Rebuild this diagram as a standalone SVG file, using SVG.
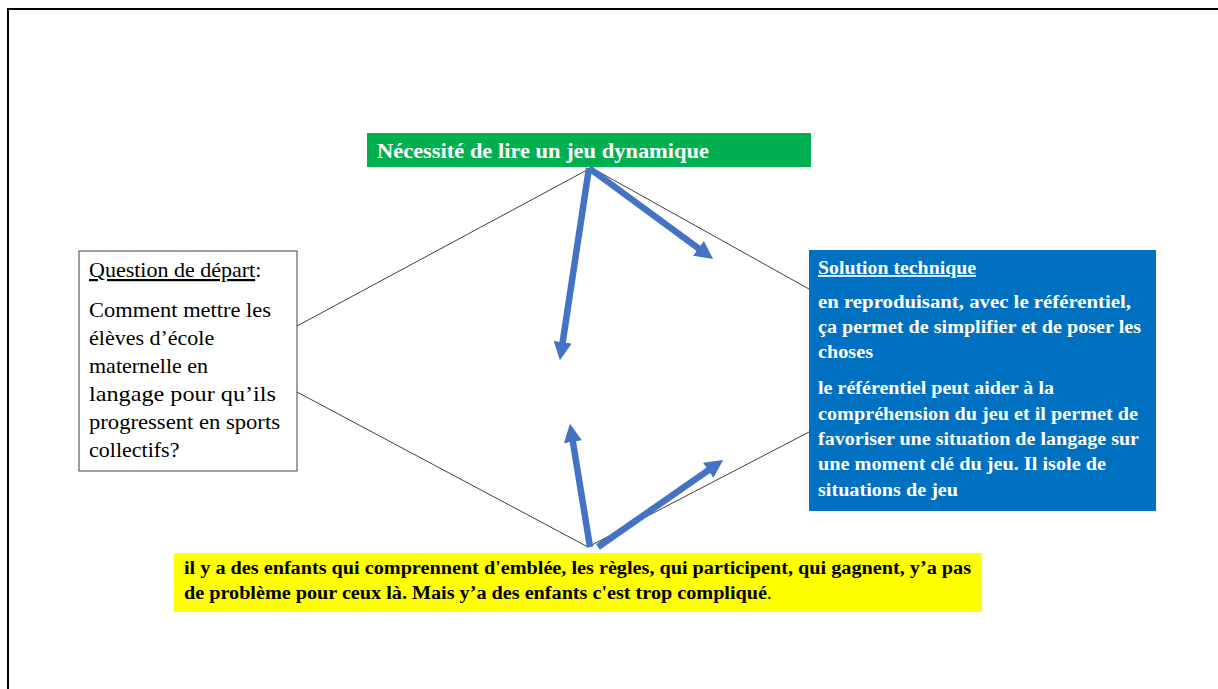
<svg xmlns="http://www.w3.org/2000/svg" width="1218" height="689" viewBox="0 0 1218 689">
<style>
.frame{stroke:#000;stroke-width:2;fill:none}
.thin{stroke:#404040;stroke-width:1;fill:none}
.arr{stroke:#4472C4;stroke-width:6.5;fill:none;marker-end:url(#ah)}
.q{font-family:"Liberation Serif","Times New Roman",serif;font-size:22px;fill:#000}
.b{font-family:"Liberation Serif","Times New Roman",serif;font-weight:bold;font-size:18px;fill:#fff}
.g{font-family:"Liberation Serif","Times New Roman",serif;font-weight:bold;font-size:21px;fill:#fff}
.y{font-family:"Liberation Serif","Times New Roman",serif;font-weight:bold;font-size:18px;fill:#000}
.u{text-decoration:underline}
</style>
<defs>
<marker id="ah" viewBox="0 0 3 3" markerWidth="2.8" markerHeight="2.8" refX="0.5" refY="1.5" orient="auto" markerUnits="strokeWidth">
<path d="M0,0 L3,1.5 L0,3 z" fill="#4472C4"/>
</marker>
</defs>
<rect x="0" y="0" width="1218" height="689" fill="#fff"/>
<path class="frame" d="M8,689 V9 H1218"/>
<g id="connectors">
<line class="thin" x1="297" y1="326" x2="587" y2="170"/>
<line class="thin" x1="592" y1="168" x2="809" y2="289"/>
<line class="thin" x1="297" y1="392" x2="588" y2="547"/>
<line class="thin" x1="588" y1="547" x2="809" y2="432"/>
<line class="arr" x1="589" y1="168" x2="562.2" y2="345.2"/>
<line class="arr" x1="589" y1="168" x2="700.9" y2="250.1"/>
<line class="arr" x1="590" y1="547" x2="572.4" y2="438.8"/>
<line class="arr" x1="598" y1="547" x2="710.7" y2="468.6"/>
</g>
<g id="green">
<rect x="367" y="133" width="444" height="34" fill="#00B050"/>
<text class="g" x="377" y="158" textLength="332" lengthAdjust="spacingAndGlyphs">Nécessité de lire un jeu dynamique</text>
</g>
<g id="question">
<rect x="79" y="251" width="218" height="220" fill="#fff" stroke="#404040" stroke-width="1"/>
<text class="q" x="89" y="277"><tspan class="u">Question de départ</tspan>:</text>
<text class="q" x="89" y="317" textLength="182" lengthAdjust="spacingAndGlyphs">Comment mettre les</text>
<text class="q" x="89" y="345">élèves d’école</text>
<text class="q" x="89" y="373">maternelle en</text>
<text class="q" x="89" y="401" textLength="187" lengthAdjust="spacingAndGlyphs">langage pour qu’ils</text>
<text class="q" x="89" y="429" textLength="191" lengthAdjust="spacingAndGlyphs">progressent en sports</text>
<text class="q" x="89" y="457">collectifs?</text>
</g>
<g id="solution">
<rect x="809" y="250" width="347" height="261" fill="#0070C0"/>
<text class="b u" x="818" y="274" textLength="158" lengthAdjust="spacingAndGlyphs">Solution technique</text>
<text class="b" x="818" y="308" textLength="313" lengthAdjust="spacingAndGlyphs">en reproduisant,  avec le référentiel,</text>
<text class="b" x="818" y="333" textLength="323" lengthAdjust="spacingAndGlyphs">ça permet  de simplifier  et de poser les</text>
<text class="b" x="818" y="358" textLength="55" lengthAdjust="spacingAndGlyphs">choses</text>
<text class="b" x="818" y="394" textLength="236" lengthAdjust="spacingAndGlyphs">le référentiel  peut aider à la</text>
<text class="b" x="818" y="420" textLength="320" lengthAdjust="spacingAndGlyphs">compréhension  du jeu et il permet de</text>
<text class="b" x="818" y="445" textLength="321" lengthAdjust="spacingAndGlyphs">favoriser  une situation  de langage sur</text>
<text class="b" x="818" y="470" textLength="288" lengthAdjust="spacingAndGlyphs">une moment  clé du jeu. Il isole de</text>
<text class="b" x="818" y="496" textLength="140" lengthAdjust="spacingAndGlyphs">situations  de jeu</text>
</g>
<g id="yellow">
<rect x="174" y="553" width="808" height="59" fill="#FFFF00"/>
<text class="y" x="184" y="574" textLength="787" lengthAdjust="spacingAndGlyphs">il y a des enfants qui comprennent  d'emblée, les règles, qui participent,  qui gagnent, y’a pas</text>
<text class="y" x="184" y="599"><tspan textLength="583" lengthAdjust="spacingAndGlyphs">de problème pour ceux là. Mais y’a des enfants c'est trop compliqué</tspan><tspan font-weight="normal">.</tspan></text>
</g>
</svg>
